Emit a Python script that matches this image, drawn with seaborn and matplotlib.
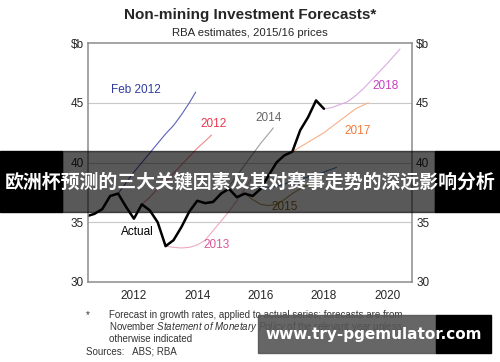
import numpy as np
import pandas as pd
import matplotlib.pyplot as plt
import seaborn as sns
from matplotlib.patches import Rectangle

# --- data (quarters, $b) ---
actual_x = [2011.00, 2011.25, 2011.50, 2011.75, 2012.00, 2012.25, 2012.50, 2012.75,
            2013.00, 2013.25, 2013.50, 2013.75, 2014.00, 2014.25, 2014.50, 2014.75,
            2015.00, 2015.25, 2015.50, 2015.75, 2016.00, 2016.25, 2016.50, 2016.75,
            2017.00, 2017.25, 2017.50, 2017.75, 2018.00, 2018.25, 2018.50]
actual_y = [35.5, 35.7, 36.1, 37.2, 37.4, 36.3, 35.3, 36.5,
            36.0, 35.0, 33.0, 33.5, 34.6, 35.9, 36.8, 36.6,
            36.7, 37.4, 37.8, 37.1, 37.4, 37.2, 37.8, 38.9,
            40.0, 40.6, 40.9, 42.7, 43.8, 45.2, 44.5]

feb2012_x = [2012.00, 2012.25, 2012.50, 2012.75, 2013.00, 2013.25, 2013.50, 2013.75, 2014.00, 2014.25, 2014.45]
feb2012_y = [37.4, 38.3, 39.2, 40.0, 40.8, 41.6, 42.4, 43.1, 44.0, 45.0, 45.9]

f2012_x = [2012.75, 2013.00, 2013.25, 2013.50, 2013.75, 2014.00, 2014.25, 2014.50, 2014.75, 2014.95]
f2012_y = [36.5, 37.1, 37.8, 38.4, 39.1, 39.8, 40.5, 41.2, 41.8, 42.3]

f2013_x = [2013.50, 2013.75, 2014.00, 2014.25, 2014.50, 2014.75, 2015.00, 2015.25, 2015.50, 2015.75, 2016.00, 2016.20]
f2013_y = [33.0, 32.9, 32.85, 32.9, 33.1, 33.5, 34.3, 35.1, 35.9, 36.8, 37.8, 38.6]

f2014_x = [2014.75, 2015.00, 2015.25, 2015.50, 2015.75, 2016.00, 2016.25, 2016.50, 2016.75, 2016.90]
f2014_y = [36.6, 36.8, 37.3, 38.0, 38.9, 39.8, 40.7, 41.6, 42.4, 42.9]

f2015_x = [2016.00, 2016.25, 2016.50, 2016.75, 2017.00, 2017.25, 2017.50, 2017.75, 2018.05]
f2015_y = [37.4, 36.9, 36.5, 36.4, 36.5, 36.9, 37.4, 37.8, 38.2]

f2016_x = [2016.50, 2016.75, 2017.00, 2017.25, 2017.50, 2017.75, 2018.00, 2018.25, 2018.50, 2018.90]
f2016_y = [37.8, 37.9, 38.0, 38.2, 38.4, 38.6, 38.8, 39.0, 39.2, 39.6]

f2017_x = [2017.50, 2017.75, 2018.00, 2018.25, 2018.50, 2018.75, 2019.00, 2019.25, 2019.50, 2019.90]
f2017_y = [40.9, 41.3, 41.7, 42.1, 42.5, 43.0, 43.5, 44.0, 44.5, 45.0]

f2018_x = [2018.50, 2018.75, 2019.00, 2019.25, 2019.50, 2019.75, 2020.00, 2020.25, 2020.50, 2020.90]
f2018_y = [44.5, 44.6, 44.85, 45.1, 45.6, 46.2, 46.9, 47.6, 48.3, 49.5]

year_labels = ["2012", "2014", "2016", "2018", "2020"]
y_labels = ["30", "35", "40", "45", "$b"]

sns.set_style("white")
plt.rcParams['font.family'] = ['Liberation Sans', 'DejaVu Sans']
plt.rcParams['mathtext.fontset'] = 'custom'
plt.rcParams['mathtext.it'] = 'Liberation Sans:italic'
plt.rcParams['mathtext.rm'] = 'Liberation Sans'

fig = plt.figure(figsize=(5, 3.62), dpi=100)
ax = fig.add_axes([0.176, 0.221, 0.648, 0.660])

# forecasts (thin)
forecasts = [
    (feb2012_x, feb2012_y, "#5a62b8"),
    (f2012_x, f2012_y, "#ee8a8a"),
    (f2013_x, f2013_y, "#eeaac4"),
    (f2014_x, f2014_y, "#a0a0a0"),
    (f2015_x, f2015_y, "#b59a5a"),
    (f2016_x, f2016_y, "#4f8ac8"),
    (f2017_x, f2017_y, "#f6b088"),
    (f2018_x, f2018_y, "#dcaae4"),
]
for fx, fy, col in forecasts:
    sns.lineplot(x=fx, y=fy, ax=ax, color=col, linewidth=0.8)

sns.lineplot(x=actual_x, y=actual_y, ax=ax, color="black", linewidth=1.8)

# labels on lines
lab_kw = dict(fontsize=8.5, ha="center", va="center")
ax.text(2012.55, 46.1, "Feb 2012", color="#2f3c9e", **lab_kw)
ax.text(2015.0, 43.2, "2012", color="#e8384f", **lab_kw)
ax.text(2016.75, 43.75, "2014", color="#666666", **lab_kw)
ax.text(2020.43, 46.4, "2018", color="#c43fc4", **lab_kw)
ax.text(2019.55, 42.6, "2017", color="#f07a3a", **lab_kw)
ax.text(2017.25, 36.25, "2015", color="#8b6a1e", **lab_kw)
ax.text(2015.1, 33.1, "2013", color="#d9589a", **lab_kw)
ax.text(2012.6, 34.2, "Actual", color="black", **lab_kw)

ax.set_xlim(2011.05, 2021.28)
ax.set_ylim(30, 50)
for yv in [35, 40, 45]:
    ax.axhline(yv, color="#c8c8c8", linewidth=0.8, zorder=0)

ax.set_yticks([30, 35, 40, 45, 50])
ax.set_yticklabels(y_labels)
ax.tick_params(axis="y", length=0, labelsize=8.5, labelright=True, pad=3)

ax.set_xticks(np.arange(2012, 2022))
ax.set_xticklabels([])
ax.set_xticks([2012.5, 2014.5, 2016.5, 2018.5, 2020.5], minor=True)
ax.set_xticklabels(year_labels, minor=True)
ax.tick_params(axis="x", which="major", direction="in", length=4, color="#555555")
ax.tick_params(axis="x", which="minor", length=0, labelsize=8.5, pad=6)
ax.set_xlabel("")
ax.set_ylabel("")
for sp in ax.spines.values():
    sp.set_color("#8c8c8c")
    sp.set_linewidth(1.1)

# titles
fig.text(0.5, 0.958, "Non-mining Investment Forecasts*", ha="center", va="center",
         fontsize=11, fontweight="bold")
fig.text(0.5, 0.908, "RBA estimates, 2015/16 prices", ha="center", va="center", fontsize=8.2)

# footnotes
foot_kw = dict(fontsize=7, color="#333333", va="center")
fig.text(0.172, 0.130, "*", **foot_kw)
fig.text(0.218, 0.130, "Forecast in growth rates, applied to actual series; forecasts are from", **foot_kw)
fig.text(0.218, 0.097, "November $\\it{Statement\\ of\\ Monetary\\ Policy}$ of the relevant year unless", **foot_kw)
fig.text(0.218, 0.064, "otherwise indicated", **foot_kw)
fig.text(0.172, 0.028, "Sources:   ABS; RBA", **foot_kw)

# overlay banner
fig.patches.append(Rectangle((0, 0.414), 0.124, 0.169, transform=fig.transFigure,
                             color="black", zorder=5))
fig.patches.append(Rectangle((0.87, 0.414), 0.13, 0.169, transform=fig.transFigure,
                             color="black", zorder=5))
fig.patches.append(Rectangle((0.124, 0.414), 0.746, 0.169, transform=fig.transFigure,
                             color="black", alpha=0.65, zorder=5))
fig.text(0.5, 0.496, "欧洲杯预测的三大关键因素及其对赛事走势的深远影响分析", ha="center", va="center",
         fontsize=13.6, fontweight="bold", color="white",
         family=['Noto Sans CJK SC', 'DejaVu Sans'], zorder=6)

# watermark box
fig.patches.append(Rectangle((0.516, 0.025), 0.356, 0.105, transform=fig.transFigure,
                             color="#555555", alpha=0.9, zorder=5))
fig.patches.append(Rectangle((0.872, 0.025), 0.11, 0.105, transform=fig.transFigure,
                             color="black", zorder=5))
fig.text(0.748, 0.077, "www.try-pgemulator.com", ha="center", va="center",
         fontsize=11, fontweight="bold", color="white", family=['DejaVu Sans'], zorder=6)

fig.savefig("out.png", dpi=100)
